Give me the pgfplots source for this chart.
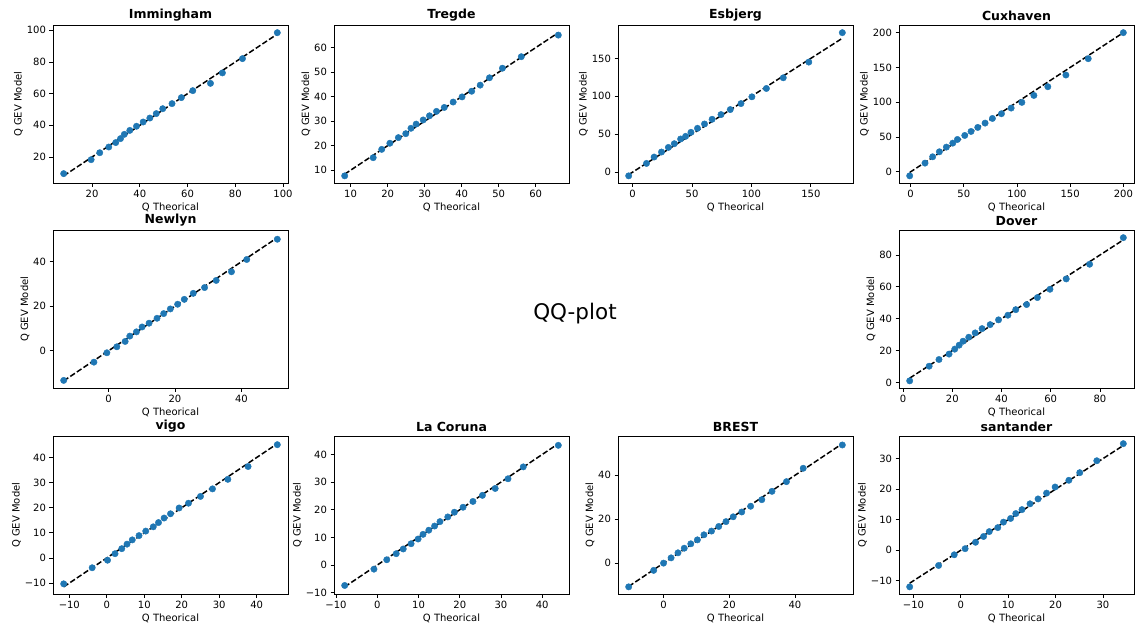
\documentclass[border=0pt]{standalone}
\usepackage{fontspec}
\setmainfont{DejaVu Sans}
\usepackage{pgfplots}
\pgfplotsset{compat=1.18}
\definecolor{mplblue}{HTML}{1F77B4}
\pgfplotsset{
  qq/.style={
    width=235pt, height=157.5pt, scale only axis,
    axis line style={line width=0.8pt, black},
    every tick/.style={line width=0.8pt, black},
    tick align=outside, major tick length=3.5pt,
    tick pos=left,
    enlargelimits=0.05,
    minor tick num=0,
    xlabel={Q Theorical}, ylabel={Q GEV Model},
    title style={font=\bfseries\fontsize{12.5}{14}\selectfont, yshift=-5pt},
    tick label style={font=\fontsize{10}{12}\selectfont},
    label style={font=\fontsize{10}{12}\selectfont},
    xlabel style={yshift=2pt},
    ylabel style={yshift=-3pt},
    /pgf/number format/assume math mode=true,
    scaled ticks=false,
  },
  pts/.style={only marks, mark=*, mark size=3.2pt, color=mplblue},
  ref/.style={black, line width=1.5pt, dash pattern=on 5.55pt off 2.4pt},
}
\begin{document}
\begin{tikzpicture}
% ---------- Row 1 ----------
\begin{axis}[qq, at={(53pt,-183pt)}, anchor=south west, title={Immingham},
  xtick={20,40,60,80,100}, ytick={20,40,60,80,100}]
\addplot[pts] coordinates {(8.1,9.5)(19.6,18.3)(23.2,22.7)(27.0,26.3)(29.9,29.1)(31.9,31.6)(33.5,34.3)(35.8,36.8)(38.6,39.4)(41.4,42.1)(44.2,44.6)(46.9,47.4)(49.6,50.5)(53.5,53.7)(57.4,57.5)(62.2,61.9)(69.6,66.5)(74.6,73.1)(83.0,82.1)(97.6,98.5)};
\addplot[ref] coordinates {(8.1,8.1)(97.6,97.6)};
\end{axis}
\begin{axis}[qq, at={(334pt,-183pt)}, anchor=south west, title={Tregde},
  xtick={10,20,30,40,50,60}, ytick={10,20,30,40,50,60}]
\addplot[pts] coordinates {(8.4,7.7)(16.1,15.1)(18.4,18.5)(20.6,21.0)(22.9,23.3)(24.9,24.9)(26.3,27.1)(27.7,28.8)(29.6,30.5)(31.3,32.2)(33.2,34.0)(35.3,35.6)(37.7,37.8)(40.1,39.9)(42.7,42.2)(45.0,44.7)(47.5,47.7)(51.0,51.6)(56.1,56.3)(66.1,65.1)};
\addplot[ref] coordinates {(8.4,8.4)(66.1,66.1)};
\end{axis}
\begin{axis}[qq, at={(618pt,-183pt)}, anchor=south west, title={Esbjerg},
  xtick={0,50,100,150}, ytick={0,50,100,150}]
\addplot[pts] coordinates {(-3.3,-4.9)(11.7,11.5)(18.1,19.9)(24.3,26.5)(30.1,32.6)(35.1,37.5)(40.4,43.7)(44.6,47.2)(49.1,52.5)(54.6,57.8)(60.5,63.5)(66.9,69.7)(74.4,75.9)(82.2,82.5)(91.2,90.4)(100.4,99.3)(112.6,110.3)(126.8,124.4)(148.3,145.1)(176.5,183.9)};
\addplot[ref] coordinates {(-3.3,-3.3)(176.5,176.5)};
\end{axis}
\begin{axis}[qq, at={(899pt,-183pt)}, anchor=south west, title={Cuxhaven},
  xtick={0,50,100,150,200}, ytick={0,50,100,150,200}]
\addplot[pts] coordinates {(-0.9,-5.8)(13.5,12.5)(20.7,21.6)(27.0,28.8)(33.6,35.5)(39.6,41.2)(44.0,46.5)(50.9,52.3)(56.8,58.0)(63.1,63.8)(70.0,70.0)(76.9,76.7)(85.4,83.5)(94.5,91.6)(104.6,99.8)(115.9,109.8)(129.0,122.3)(146.0,139.1)(167.0,162.6)(200.0,200.0)};
\addplot[ref] coordinates {(-0.9,-0.9)(200.0,200.0)};
\end{axis}
% ---------- Row 2 ----------
\begin{axis}[qq, at={(53pt,-388pt)}, anchor=south west, title={Newlyn},
  xtick={0,20,40}, ytick={0,20,40}]
\addplot[pts] coordinates {(-13.5,-13.3)(-4.4,-5.1)(-0.5,-0.9)(2.5,1.8)(5.0,4.2)(6.4,6.6)(8.4,8.5)(10.1,10.7)(12.2,12.4)(14.6,14.6)(16.6,16.7)(18.6,18.8)(20.8,20.9)(22.8,23.1)(25.5,25.8)(28.9,28.4)(32.4,31.6)(37.0,35.5)(41.6,41.0)(50.8,50.1)};
\addplot[ref] coordinates {(-13.5,-13.5)(50.8,50.8)};
\end{axis}
\begin{axis}[qq, at={(899pt,-388pt)}, anchor=south west, title={Dover},
  xtick={0,20,40,60,80}, ytick={0,20,40,60,80}]
\addplot[pts] coordinates {(2.7,1.0)(10.6,10.2)(14.6,14.4)(18.7,17.8)(21.0,20.9)(22.8,23.4)(24.4,25.9)(26.7,28.4)(29.3,31.1)(32.1,33.8)(35.4,36.3)(38.8,39.3)(42.6,42.2)(45.8,45.7)(50.2,48.9)(54.6,53.3)(59.7,58.5)(66.3,65.0)(75.8,74.2)(89.5,90.9)};
\addplot[ref] coordinates {(2.7,2.7)(89.5,89.5)};
\end{axis}
\node[font=\fontsize{21.5}{24}\selectfont] at (575pt,-314pt) {QQ-plot};
% ---------- Row 3 ----------
\begin{axis}[qq, at={(53pt,-594pt)}, anchor=south west, title={vigo},
  xtick={-10,0,10,20,30,40}, xticklabels={−10,0,10,20,30,40},
  ytick={-10,0,10,20,30,40}, yticklabels={−10,0,10,20,30,40}]
\addplot[pts] coordinates {(-11.5,-10.3)(-3.9,-3.9)(0.2,-0.9)(2.2,1.7)(4.0,3.7)(5.4,5.5)(6.8,7.2)(8.6,8.9)(10.4,10.7)(12.4,12.4)(13.8,14.1)(15.3,15.9)(17.0,17.6)(19.3,19.9)(21.8,21.8)(25.0,24.5)(28.2,27.5)(32.3,31.3)(37.7,36.4)(45.5,45.1)};
\addplot[ref] coordinates {(-11.5,-11.5)(45.5,45.5)};
\end{axis}
\begin{axis}[qq, at={(334pt,-594pt)}, anchor=south west, title={La Coruna},
  xtick={-10,0,10,20,30,40}, xticklabels={−10,0,10,20,30,40},
  ytick={-10,0,10,20,30,40}, yticklabels={−10,0,10,20,30,40}]
\addplot[pts] coordinates {(-7.9,-7.4)(-0.8,-1.5)(2.3,1.9)(4.6,4.1)(6.3,5.8)(8.2,7.7)(9.9,9.4)(11.1,11.1)(12.5,12.6)(13.9,14.1)(15.2,15.7)(17.1,17.4)(18.7,19.1)(20.8,20.9)(23.2,23.0)(25.5,25.2)(28.6,27.7)(31.7,31.2)(35.4,35.5)(43.9,43.3)};
\addplot[ref] coordinates {(-7.9,-7.9)(43.9,43.9)};
\end{axis}
\begin{axis}[qq, at={(618pt,-594pt)}, anchor=south west, title={BREST},
  xtick={0,20,40}, ytick={0,20,40}]
\addplot[pts] coordinates {(-10.6,-10.8)(-3.0,-3.3)(0.0,0.0)(2.3,2.4)(4.4,4.7)(6.3,6.8)(8.3,8.8)(10.3,10.6)(12.3,12.9)(14.6,14.6)(16.8,16.7)(19.0,18.9)(21.2,21.1)(23.8,23.3)(26.5,25.9)(29.9,28.9)(33.0,32.7)(37.4,37.1)(42.5,43.2)(54.4,53.8)};
\addplot[ref] coordinates {(-10.6,-10.6)(54.4,54.4)};
\end{axis}
\begin{axis}[qq, at={(899pt,-594pt)}, anchor=south west, title={santander},
  xtick={-10,0,10,20,30}, xticklabels={−10,0,10,20,30},
  ytick={-10,0,10,20,30}, yticklabels={−10,0,10,20,30}]
\addplot[pts] coordinates {(-10.8,-12.0)(-4.7,-5.0)(-1.4,-1.5)(0.9,0.5)(3.1,2.6)(4.8,4.5)(6.0,6.1)(7.8,7.4)(9.0,9.2)(10.5,10.4)(11.6,12.0)(12.9,13.3)(14.6,15.2)(16.3,16.8)(18.1,18.7)(19.9,20.7)(22.8,22.9)(25.1,25.4)(28.7,29.3)(34.3,34.9)};
\addplot[ref] coordinates {(-10.8,-10.8)(34.3,34.3)};
\end{axis}
\pgfresetboundingbox
\useasboundingbox (0,0) rectangle (1135pt,-630pt);
\end{tikzpicture}
\end{document}
